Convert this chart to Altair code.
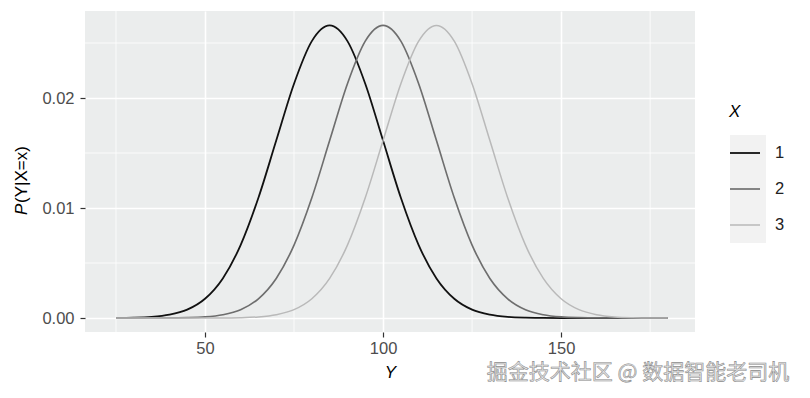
import altair as alt
import pandas as pd

# ---- data ----
y_values = [25, 30, 35, 40, 45, 50, 55, 60, 65, 70, 75, 80, 85, 90, 95, 100,
            105, 110, 115, 120, 125, 130, 135, 140, 145, 150, 155, 160, 165, 170, 175, 180]
p_x1 = [0.00001, 0.00003, 0.00010, 0.00030, 0.00076, 0.00175, 0.00360, 0.00663,
        0.01093, 0.01613, 0.02130, 0.02517, 0.02660, 0.02517, 0.02130, 0.01613,
        0.01093, 0.00663, 0.00360, 0.00175, 0.00076, 0.00030, 0.00010, 0.00003,
        0.00001, 0.0, 0.0, 0.0, 0.0, 0.0, 0.0, 0.0]
p_x2 = [0.0, 0.0, 0.0, 0.00001, 0.00003, 0.00010, 0.00030, 0.00076,
        0.00175, 0.00360, 0.00663, 0.01093, 0.01613, 0.02130, 0.02517, 0.02660,
        0.02517, 0.02130, 0.01613, 0.01093, 0.00663, 0.00360, 0.00175, 0.00076,
        0.00030, 0.00010, 0.00003, 0.00001, 0.0, 0.0, 0.0, 0.0]
p_x3 = [0.0, 0.0, 0.0, 0.0, 0.0, 0.0, 0.00001, 0.00003,
        0.00010, 0.00030, 0.00076, 0.00175, 0.00360, 0.00663, 0.01093, 0.01613,
        0.02130, 0.02517, 0.02660, 0.02517, 0.02130, 0.01613, 0.01093, 0.00663,
        0.00360, 0.00175, 0.00076, 0.00030, 0.00010, 0.00003, 0.00001, 0.0]
groups = ["1", "2", "3"]
x_major = [50, 100, 150]
x_minor = [25, 75, 125, 175]
y_major = [0.0, 0.01, 0.02]
y_minor = [0.005, 0.015, 0.025]
watermark = "掘金技术社区 @ 数据智能老司机"
y_title_italic = "P"
y_title_rest = "(Y|X=x)"

rows = []
for g, series in zip(groups, [p_x1, p_x2, p_x3]):
    for yv, p in zip(y_values, series):
        rows.append({"Y": yv, "P": p, "X": g})
df = pd.DataFrame(rows)

xdom = [16.3, 187.6]
ydom = [-0.00127, 0.02791]
xs = alt.Scale(domain=xdom, nice=False, zero=False)
ys = alt.Scale(domain=ydom, nice=False, zero=False)
FONT = "Liberation Sans"
FS = 16.5

key_bg = alt.Chart(pd.DataFrame({"k": [0]})).mark_rect(fill="#F2F2F2").encode(
    x=alt.value(645), x2=alt.value(681), y=alt.value(124), y2=alt.value(232))

minor_x = alt.Chart(pd.DataFrame({"v": x_minor})).mark_rule(color="white", strokeWidth=0.8).encode(
    x=alt.X("v:Q", scale=xs))
minor_y = alt.Chart(pd.DataFrame({"v": y_minor})).mark_rule(color="white", strokeWidth=0.8).encode(
    y=alt.Y("v:Q", scale=ys))

lines = alt.Chart(df).mark_line(interpolate="monotone").encode(
    x=alt.X("Y:Q", scale=xs,
            axis=alt.Axis(values=x_major, title="Y", grid=True, gridColor="white", gridWidth=1.6,
                          domain=False, tickColor="#333333", tickSize=5, tickWidth=1.2,
                          labelColor="#4d4d4d", labelFontSize=FS, labelFont=FONT,
                          labelPadding=3, titleFont=FONT, titleFontSize=17,
                          titleFontStyle="italic", titleFontWeight="normal",
                          titleColor="#000000", titlePadding=8)),
    y=alt.Y("P:Q", scale=ys,
            axis=alt.Axis(values=y_major, format=".2f", title=None, grid=True,
                          gridColor="white", gridWidth=1.6, domain=False, tickColor="#333333",
                          tickSize=5, tickWidth=1.2, labelColor="#4d4d4d", labelFontSize=FS,
                          labelFont=FONT, labelPadding=6)),
    color=alt.Color("X:N", scale=alt.Scale(domain=groups, range=["#111111", "#6e6e6e", "#b9b9b9"]),
                    legend=alt.Legend(title="X", orient="none", legendX=644, legendY=93,
                                      symbolType="stroke", symbolSize=900, symbolStrokeWidth=1.8,
                                      titleFont=FONT, titleFontSize=17, titleFontStyle="italic",
                                      titleFontWeight="normal", titleColor="#000000", titlePadding=16,
                                      labelFont=FONT, labelFontSize=FS, labelColor="#222222",
                                      labelOffset=14, rowPadding=11)),
    strokeWidth=alt.StrokeWidth("X:N", scale=alt.Scale(domain=groups, range=[1.8, 1.5, 1.2]),
                                legend=None),
    order=alt.Order("X:N"),
)

title_p = alt.Chart(pd.DataFrame({"t": [y_title_italic]})).mark_text(
    font=FONT, fontSize=17, fontStyle="italic", angle=270, align="left", baseline="middle",
    color="#000000").encode(text="t:N", x=alt.value(-63), y=alt.value(204))
title_rest = alt.Chart(pd.DataFrame({"t": [y_title_rest]})).mark_text(
    font=FONT, fontSize=17, angle=270, align="left", baseline="middle",
    color="#000000").encode(text="t:N", x=alt.value(-63), y=alt.value(192))

wm = alt.Chart(pd.DataFrame({"t": [watermark]})).mark_text(
    font="Noto Sans CJK SC", fontSize=21, fill="#e6e6e6", stroke="#8c8c8c", strokeWidth=0.6,
    align="center", baseline="middle").encode(
    text="t:N", x=alt.value(553), y=alt.value(362))

chart = alt.layer(key_bg, minor_x, minor_y, lines, title_p, title_rest, wm).properties(
    width=610, height=321,
    background="white",
    autosize=alt.AutoSizeParams(type="none"),
    padding={"left": 85, "top": 11, "right": 115, "bottom": 66},
).configure_view(fill="#EBEDED", stroke=None)

chart.save("out.html", embed_options={"renderer": "svg", "actions": False})
